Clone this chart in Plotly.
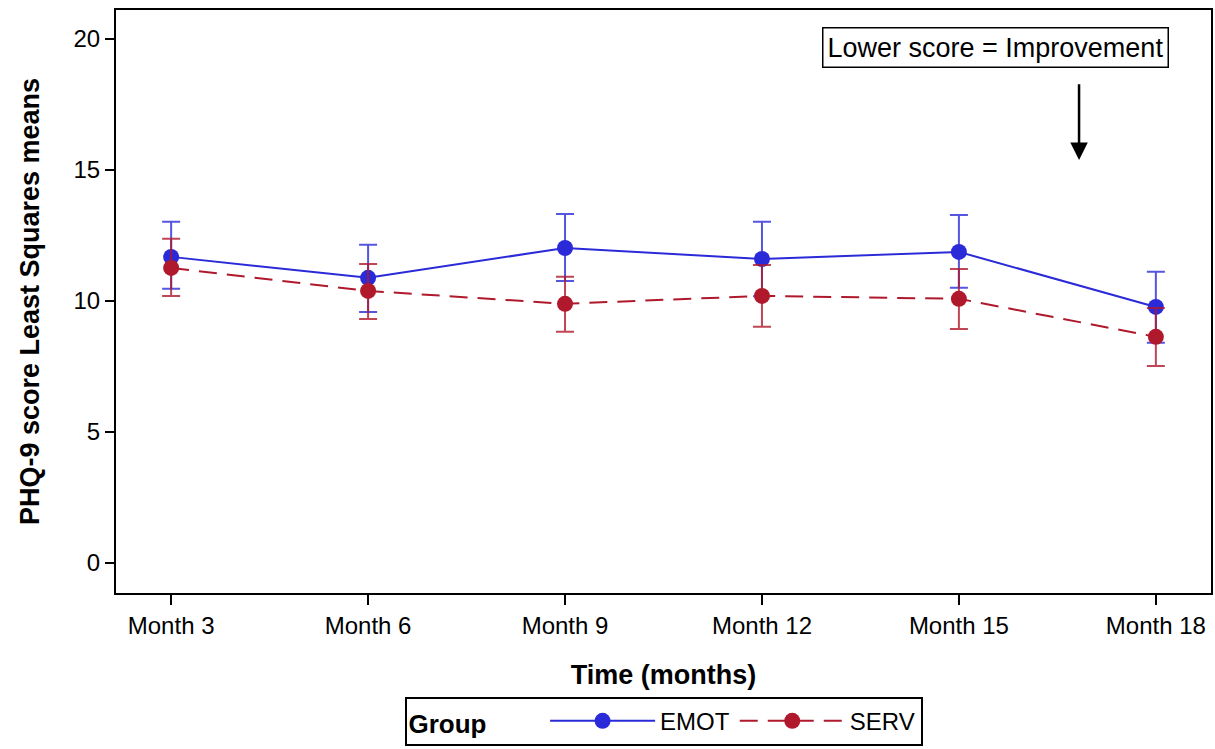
import plotly.graph_objects as go

months = ["Month 3", "Month 6", "Month 9", "Month 12", "Month 15", "Month 18"]
emot_mean = [11.68, 10.88, 12.02, 11.60, 11.87, 9.77]
emot_upper = [13.02, 12.14, 13.32, 13.02, 13.28, 11.11]
emot_lower = [10.46, 9.58, 10.76, 10.18, 10.50, 8.40]
serv_mean = [11.26, 10.38, 9.89, 10.19, 10.08, 8.63]
serv_upper = [12.37, 11.41, 10.92, 11.37, 11.22, 9.73]
serv_lower = [10.19, 9.31, 8.82, 9.01, 8.93, 7.52]

BLUE = "#2A2AD8"
RED = "#B0182C"
BLUE_EB = "rgba(42,42,216,0.8)"
RED_EB = "rgba(176,24,44,0.8)"
FONT = "Liberation Sans, Arial, sans-serif"

fig = go.Figure()

def add(name, mean, up, lo, color, ebcolor, dash):
    fig.add_trace(go.Scatter(
        x=months, y=mean, name=name, mode="lines+markers",
        line=dict(color=color, width=2, dash=dash),
        marker=dict(color=color, size=16),
        error_y=dict(type="data", symmetric=False,
                     array=[u - m for u, m in zip(up, mean)],
                     arrayminus=[m - l for m, l in zip(mean, lo)],
                     color=ebcolor, thickness=2, width=9),
    ))

add("EMOT", emot_mean, emot_upper, emot_lower, BLUE, BLUE_EB, "solid")
add("SERV", serv_mean, serv_upper, serv_lower, RED, RED_EB, "18px,10px")

fig.update_layout(
    width=1215, height=749,
    margin=dict(l=116, r=2, t=10, b=156),
    paper_bgcolor="white", plot_bgcolor="white",
    font=dict(family=FONT, size=24, color="black"),
    showlegend=True,
    legend=dict(
        orientation="h", x=0.5, xanchor="center", y=-0.262, yanchor="bottom",
        bordercolor="black", borderwidth=2,
        title=dict(text="<b>Group</b>       ", side="left", font=dict(size=26)),
        font=dict(size=24), itemwidth=105, tracegroupgap=0,
    ),
    xaxis=dict(
        type="category", range=[-0.28, 5.28],
        title=dict(text="<b>Time (months)</b>", font=dict(size=27), standoff=27),
        showline=True, linecolor="black", linewidth=2, mirror=True,
        ticks="outside", ticklen=10, tickwidth=1.5, tickcolor="black",
        showgrid=False, zeroline=False,
    ),
    yaxis=dict(
        range=[-1.145, 21.1],
        tickvals=[0, 5, 10, 15, 20],
        title=dict(text="<b>PHQ-9 score Least Squares means</b>", font=dict(size=27), standoff=26),
        showline=True, linecolor="black", linewidth=2, mirror=True,
        ticks="outside", ticklen=9, tickwidth=1.5, tickcolor="black",
        showgrid=False, zeroline=False,
    ),
)

fig.add_annotation(
    x=4.185, y=19.66, xref="x", yref="y",
    text="Lower score = Improvement", showarrow=False,
    font=dict(size=27, family=FONT), bordercolor="black", borderwidth=1.5,
    borderpad=4, bgcolor="white",
)
fig.add_annotation(
    x=4.61, y=15.38, ax=4.61, ay=18.32, xref="x", yref="y", axref="x", ayref="y",
    text="", showarrow=True, arrowhead=2, arrowsize=1.4, arrowwidth=2.5, arrowcolor="black",
)

fig.write_html("out.html")
